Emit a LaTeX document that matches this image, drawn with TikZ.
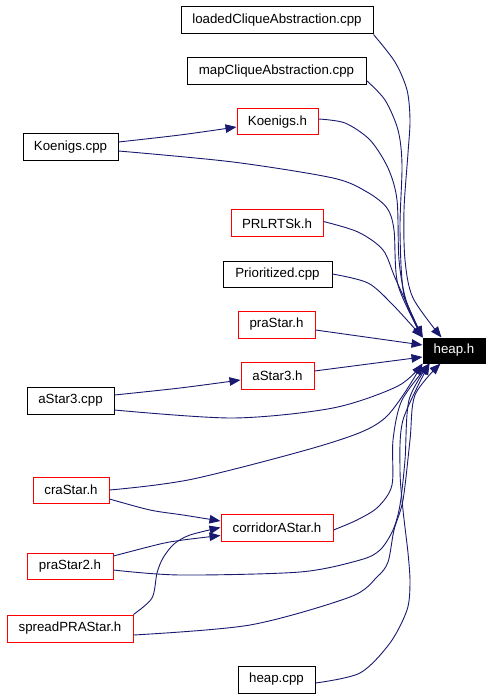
\documentclass[tikz,border=0pt]{standalone}
\usepackage{fontspec}
\setmainfont{Liberation Sans}
\usetikzlibrary{arrows.meta}
\definecolor{edgeblue}{HTML}{191970}
\definecolor{boxred}{HTML}{FF0000}
\begin{document}
\begin{tikzpicture}[x=1pt,y=-1pt,
  box/.style={draw=black, rectangle, inner sep=0pt, line width=1pt, minimum height=27pt,
    font=\fontsize{13.3}{15}\selectfont},
  redbox/.style={box, draw=boxred},
  edge/.style={draw=edgeblue, line width=0.9pt, -{Triangle[length=11pt,width=8.5pt]}}]
\fill[white] (0,0) rectangle (492,700);
\useasboundingbox (0,0) rectangle (492,700);

\node[box, minimum width=192pt] (loaded) at (277,20.5) {loadedCliqueAbstraction.cpp};
\node[box, minimum width=179pt] (map) at (276.5,71.5) {mapCliqueAbstraction.cpp};
\node[redbox, minimum width=81pt, minimum height=26pt] (koenigsh) at (277.5,122) {Koenigs.h};
\node[box, minimum width=95pt] (koenigscpp) at (70.5,147.5) {Koenigs.cpp};
\node[redbox, minimum width=92pt] (prlrtsk) at (277,223.5) {PRLRTSk.h};
\node[box, minimum width=109pt, minimum height=26pt] (prior) at (277.5,274) {Prioritized.cpp};
\node[redbox, minimum width=77pt] (prastar) at (276.5,324.5) {praStar.h};
\node[redbox, minimum width=73pt] (astar3h) at (277.5,375.5) {aStar3.h};
\node[box, fill=black, text=white, minimum width=62pt, minimum height=25pt] (heap) at (454,350.5) {heap.h};
\node[box, minimum width=87pt] (astar3cpp) at (70.5,400.5) {aStar3.cpp};
\node[redbox, minimum width=76pt, minimum height=26pt] (crastar) at (71,490) {craStar.h};
\node[redbox, minimum width=112pt] (corridor) at (277,527.5) {corridorAStar.h};
\node[redbox, minimum width=86pt, minimum height=26pt] (prastar2) at (70,566) {praStar2.h};
\node[redbox, minimum width=126pt] (spread) at (70,628.5) {spreadPRAStar.h};
\node[box, minimum width=77pt] (heapcpp) at (276.5,679.5) {heap.cpp};

% edges into Koenigs.h, aStar3.h, corridorAStar.h
\draw[edge] plot[smooth] coordinates {([yshift=5.5pt]koenigscpp.east) (180,135) ([yshift=-5pt]koenigsh.west)};
\draw[edge] plot[smooth] coordinates {([yshift=5.5pt]astar3cpp.east) (180,388) ([yshift=-4.5pt]astar3h.west)};
\draw[edge] plot[smooth] coordinates {([yshift=-9pt]crastar.east) (150,510) (183,515) ([yshift=6.5pt]corridor.west)};
\draw[edge] plot[smooth] coordinates {([yshift=10pt]prastar2.east) (160,544) (183,540) ([yshift=-8pt]corridor.west)};
\draw[edge] plot[smooth] coordinates {(spread.north east) (152,598) (157,573) (163,558) (174,544) (190,535) (corridor.west)};

% edges into heap.h from above
\draw[edge] plot[smooth] coordinates {(loaded.south east) (395,62) (407,90) (410,120) (408,153) (404,210) (405,260) (413,298) ([xshift=19pt]heap.north west)};
\draw[edge] plot[smooth] coordinates {([yshift=-9pt]map.east) (385,100) (398,130) (402,165) (400,230) (404,295) (heap.north west)};
\draw[edge] plot[smooth] coordinates {([yshift=3pt]koenigsh.east) (345,123) (370,140) (388,168) (397,200) (399,260) (406,300) (heap.north west)};
\draw[edge] plot[smooth] coordinates {([yshift=-3.5pt]koenigscpp.east) (233,162) (333,178) (367,192) (387,208) (394,230) (398,285) (heap.north west)};
\draw[edge] plot[smooth] coordinates {([yshift=2pt]prlrtsk.east) (358,232) (383,250) (396,280) (heap.north west)};
\draw[edge] plot[smooth] coordinates {(prior.east) (368,283) (393,305) (heap.north west)};

% from the left
\draw[edge] ([yshift=-5.5pt]prastar.east) -- ([yshift=5.5pt]heap.west);
\draw[edge] ([yshift=4.5pt]astar3h.east) -- ([yshift=-6.5pt]heap.west);

% edges into heap.h from below
\draw[edge] plot[smooth] coordinates {([yshift=-9.5pt]astar3cpp.east) (233,418) (333,408) (398,386) (heap.south west)};
\draw[edge] plot[smooth] coordinates {(crastar.east) (193,479) (330,443) (385,418) (heap.south west)};
\draw[edge] plot[smooth] coordinates {([yshift=-2.5pt]corridor.east) (357,520) (378,507) (392,485) (393,440) (402,400) ([xshift=7pt]heap.south west)};
\draw[edge] plot[smooth] coordinates {([yshift=-4pt]prastar2.east) (180,575) (300,572) (360,560) (380,550) (393,530) (400,505) (405,460) (409,400) ([xshift=7pt]heap.south west)};
\draw[edge] plot[smooth] coordinates {([yshift=-6.5pt]spread.east) (250,625) (350,597) (377,577) (388,562) (394,530) (403,500) (410,440) (415,395) ([xshift=18pt]heap.south west)};
\draw[edge] plot[smooth] coordinates {([yshift=-3.5pt]heapcpp.east) (360,673) (390,643) (407,610) (410,583) (408,553) (403,510) (400,470) (403,420) ([xshift=7pt]heap.south west)};
\end{tikzpicture}
\end{document}
